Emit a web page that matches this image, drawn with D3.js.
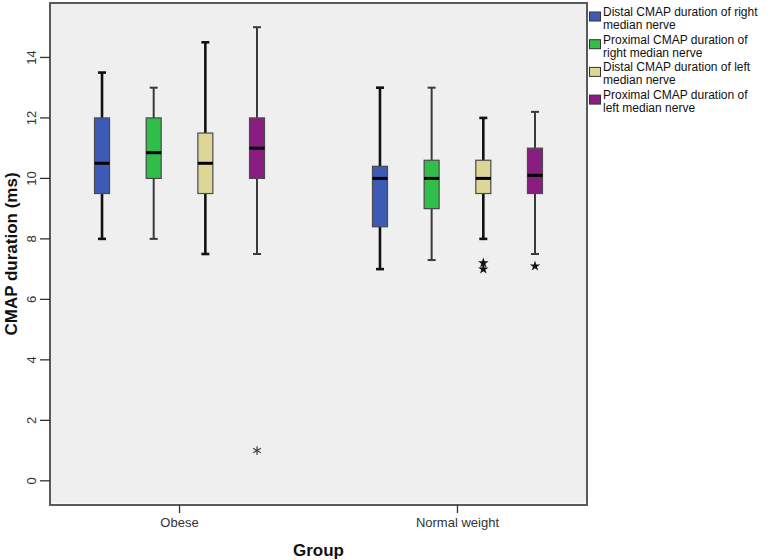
<!DOCTYPE html>
<html><head><meta charset="utf-8">
<script src="https://cdn.jsdelivr.net/npm/d3@7"></script>
<style>body{margin:0;background:#fff;}svg{display:block;font-family:"Liberation Sans",Arial,sans-serif;}</style>
</head><body>
<svg id="c" width="778" height="560"></svg>
<script>
const groups = ["Obese", "Normal weight"];
const series = ["Distal CMAP duration of right median nerve",
                "Proximal CMAP duration of right median nerve",
                "Distal CMAP duration of left median nerve",
                "Proximal CMAP duration of left median nerve"];
const legendLines = [["Distal CMAP duration of right", "median nerve"],
                     ["Proximal CMAP duration of", "right median nerve"],
                     ["Distal CMAP duration of left", "median nerve"],
                     ["Proximal CMAP duration of", "left median nerve"]];
const colors = ["#3d5bb6", "#2fbe47", "#ddd696", "#8a1d82"];
// [min, q1, median, q3, max] per group, per series
const obeseStats = [[8, 9.5, 10.5, 12, 13.5],
                    [8, 10, 10.85, 12, 13],
                    [7.5, 9.5, 10.5, 11.5, 14.5],
                    [7.5, 10, 11, 12, 15]];
const normalStats = [[7, 8.4, 10, 10.4, 13],
                     [7.3, 9, 10, 10.6, 13],
                     [8, 9.5, 10, 10.6, 12],
                     [7.5, 9.5, 10.1, 11, 12.2]];
const obeseOutliers = [[], [], [], [1]];
const normalOutliers = [[], [], [7.2, 7.0], [7.1]];
const yTicks = [0, 2, 4, 6, 8, 10, 12, 14];

const svg = d3.select("#c");
const L = 50, R = 587, T = 3, B = 505;
const y = d3.scaleLinear().domain([-0.8, 15.8]).range([B, T]);
const x = d3.scalePoint().domain(groups).range([L, R]).padding(0.466);
const xs = d3.scalePoint().domain(series).range([-77.5, 77.5]);
const bw = 15, cap = 7;

svg.append("rect").attr("x", L).attr("y", T).attr("width", R - L).attr("height", B - T)
  .attr("fill", "#efefef");
svg.append("line").attr("x1", L + 2).attr("x2", R - 1).attr("y1", B - 2).attr("y2", B - 2)
  .attr("stroke", "#fafafa").attr("stroke-width", 1.5);

const statsBy = {"Obese": obeseStats, "Normal weight": normalStats};
const outBy = {"Obese": obeseOutliers, "Normal weight": normalOutliers};
const thick = [true, false, true, false];

groups.forEach(g => {
  series.forEach((s, i) => {
    const [mn, q1, md, q3, mx] = statsBy[g][i];
    const cx = x(g) + xs(s);
    const gg = svg.append("g");
    const ws = thick[i] ? "#111" : "#3a3a3a";
    const ww = thick[i] ? 2.6 : 2;
    gg.append("line").attr("x1", cx).attr("x2", cx).attr("y1", y(mx)).attr("y2", y(q3))
      .attr("stroke", ws).attr("stroke-width", ww);
    gg.append("line").attr("x1", cx).attr("x2", cx).attr("y1", y(q1)).attr("y2", y(mn))
      .attr("stroke", ws).attr("stroke-width", ww);
    [mn, mx].forEach(v => gg.append("line").attr("x1", cx - cap / 2 - 0.5).attr("x2", cx + cap / 2 + 0.5)
      .attr("y1", y(v)).attr("y2", y(v)).attr("stroke", ws).attr("stroke-width", ww));
    gg.append("rect").attr("x", cx - bw / 2).attr("y", y(q3)).attr("width", bw)
      .attr("height", y(q1) - y(q3)).attr("fill", colors[i]).attr("stroke", "#4a4a4a").attr("stroke-width", 1.2);
    gg.append("line").attr("x1", cx - bw / 2).attr("x2", cx + bw / 2).attr("y1", y(md)).attr("y2", y(md))
      .attr("stroke", "#000").attr("stroke-width", 3);
    outBy[g][i].forEach(v => {
      if (g === "Obese") {
        const sym = d3.symbol().type(d3.symbolAsterisk || d3.symbolCross).size(55);
        gg.append("path").attr("d", sym()).attr("transform", `translate(${cx},${y(v)})`)
          .attr("fill", "none").attr("stroke", "#444").attr("stroke-width", 1.2);
      } else {
        const sym = d3.symbol().type(d3.symbolStar).size(34);
        gg.append("path").attr("d", sym()).attr("transform", `translate(${cx},${y(v)})`)
          .attr("fill", "#111");
      }
    });
  });
});

// frame
svg.append("rect").attr("x", L).attr("y", T).attr("width", R - L).attr("height", B - T)
  .attr("fill", "none").attr("stroke", "#5a5a5a").attr("stroke-width", 2);

// y axis ticks
const yt = svg.append("g");
yTicks.forEach(t => {
  yt.append("line").attr("x1", L - 10).attr("x2", L).attr("y1", y(t)).attr("y2", y(t))
    .attr("stroke", "#333").attr("stroke-width", 1.3);
  yt.append("text").attr("transform", `translate(36,${y(t)}) rotate(-90)`)
    .attr("text-anchor", "middle").attr("font-size", 13).attr("fill", "#333").text(t);
});
// x axis ticks
groups.forEach(g => {
  svg.append("line").attr("x1", x(g)).attr("x2", x(g)).attr("y1", B).attr("y2", B + 8)
    .attr("stroke", "#333").attr("stroke-width", 1.3);
  svg.append("text").attr("x", x(g)).attr("y", 527).attr("text-anchor", "middle")
    .attr("font-size", 13).attr("fill", "#333").text(g);
});
// axis titles
svg.append("text").attr("transform", `translate(17,${(T + B) / 2}) rotate(-90)`)
  .attr("text-anchor", "middle").attr("font-size", 17).attr("font-weight", "bold").attr("fill", "#111")
  .text("CMAP duration (ms)");
svg.append("text").attr("x", (L + R) / 2).attr("y", 556).attr("text-anchor", "middle")
  .attr("font-size", 17).attr("font-weight", "bold").attr("fill", "#111").text("Group");

// legend
series.forEach((s, i) => {
  const ly = 12 + i * 27.7;
  svg.append("rect").attr("x", 589.5).attr("y", ly).attr("width", 11).attr("height", 9)
    .attr("fill", colors[i]).attr("stroke", "#333").attr("stroke-width", 1);
  legendLines[i].forEach((t, j) => {
    svg.append("text").attr("x", 603).attr("y", ly + 4 + j * 12.8).attr("font-size", 12)
      .attr("fill", "#111").text(t);
  });
});
</script>
</body></html>
